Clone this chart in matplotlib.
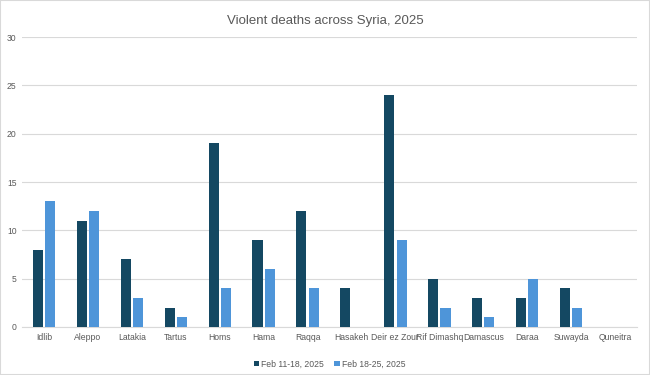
import matplotlib.pyplot as plt
import numpy as np
from matplotlib.patches import Rectangle

regiones = ["Idlib", "Aleppo", "Latakia", "Tartus", "Homs", "Hama", "Raqqa",
            "Hasakeh", "Deir ez Zour", "Rif Dimashq", "Damascus", "Daraa",
            "Suwayda", "Quneitra"]
feb_11_18 = [8, 11, 7, 2, 19, 9, 12, 4, 24, 5, 3, 3, 4, 0]
feb_18_25 = [13, 12, 3, 1, 4, 6, 4, 0, 9, 2, 1, 5, 2, 0]

plt.rcParams["font.family"] = ["Liberation Sans", "DejaVu Sans"]
gris = "#595959"
x = np.arange(len(regiones))
ancho = 0.23

fig = plt.figure(figsize=(6.5, 3.75), dpi=100)
ax = fig.add_axes([0.034, 0.128, 0.946, 0.773])
ax.bar(x - 0.14, feb_11_18, ancho, color="#144862", label="Feb 11-18, 2025", zorder=3)
ax.bar(x + 0.14, feb_18_25, ancho, color="#4e95d9", label="Feb 18-25, 2025", zorder=3)

ax.set_xlim(-0.5, len(regiones) - 0.5)
ax.set_ylim(0, 30)
ax.set_yticks(range(0, 31, 5))
ax.set_xticks(x)
ax.set_xticklabels(regiones)
ax.tick_params(axis="both", length=0, labelsize=6.2, labelcolor=gris, pad=4)
ax.grid(axis="y", color="#d9d9d9", linewidth=0.8, zorder=0)
for lado in ["top", "right", "left"]:
    ax.spines[lado].set_visible(False)
ax.spines["bottom"].set_color("#d9d9d9")

fig.suptitle("Violent deaths across Syria, 2025", y=0.96, fontsize=9.5, color=gris)
ax.legend(loc="upper center", bbox_to_anchor=(0.5, -0.085), ncol=2, frameon=False,
          fontsize=6.2, labelcolor=gris, handlelength=0.6, handleheight=0.6,
          columnspacing=1.2, handletextpad=0.3)

fig.patches.append(Rectangle((0, 0), 1, 1, transform=fig.transFigure, fill=False,
                             edgecolor="#d9d9d9", linewidth=1.5))
fig.savefig("out.png")
